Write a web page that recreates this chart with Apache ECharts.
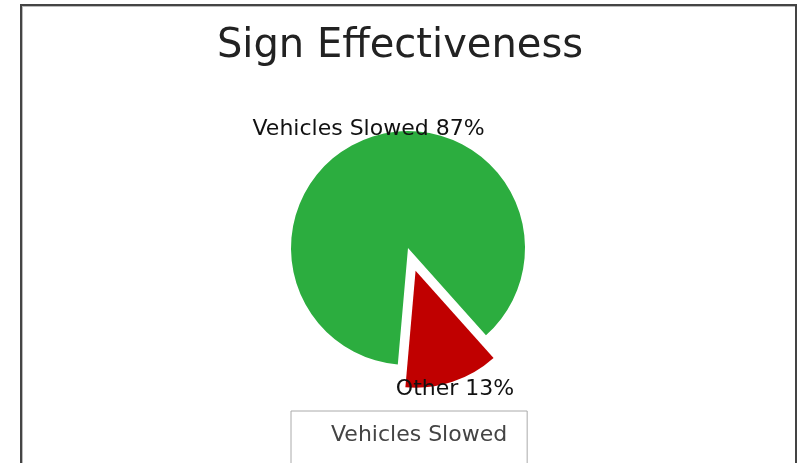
<!DOCTYPE html>
<html>
<head>
<meta charset="utf-8">
<script src="https://cdn.jsdelivr.net/npm/echarts@6/dist/echarts.min.js"></script>
<style>
  html, body { margin: 0; padding: 0; background: #fff; }
  #wrap { position: relative; width: 800px; height: 463px; overflow: hidden; }
  #chart { position: absolute; left: 0; top: 0; width: 800px; height: 560px; }
  #frame {
    position: absolute; left: 20px; top: 4px; width: 773px; height: 500px;
    border: 2px solid #444; box-shadow: inset 1px 1px 0 #bbb; pointer-events: none;
  }
</style>
</head>
<body>
<div id="wrap">
  <div id="chart"></div>
  <div id="frame"></div>
</div>
<script>
  const titleText = 'Sign Effectiveness';
  const names = ['Vehicles Slowed', 'Other'];
  const values = [87, 13];
  const colors = ['#2cad3f', '#c00000'];
  const exploded = [false, true];

  const font = '"DejaVu Sans", Verdana, sans-serif';
  const center = [408, 248];
  const offset = 24;

  const pieData = names.map((n, i) => ({
    name: n, value: values[i], selected: exploded[i],
    itemStyle: {color: colors[i]}
  }));

  const chart = echarts.init(document.getElementById('chart'));
  chart.setOption({
    animation: false,
    title: {
      text: titleText,
      left: 'center',
      top: 22,
      textStyle: {fontFamily: font, fontSize: 40, fontWeight: 'normal', color: '#222'}
    },
    legend: {
      data: names,
      orient: 'vertical',
      left: 291,
      top: 411,
      padding: [13, 20, 14, 10],
      itemGap: 26,
      itemWidth: 25,
      itemHeight: 14,
      itemStyle: {opacity: 0},
      backgroundColor: '#fff',
      borderColor: '#aaa',
      borderWidth: 1,
      selectedMode: false,
      textStyle: {fontFamily: font, fontSize: 22, color: '#444'}
    },
    series: [
      {
        type: 'pie',
        center: center,
        radius: 117,
        startAngle: 265,
        selectedMode: 'single',
        selectedOffset: offset,
        silent: true,
        label: {show: false},
        labelLine: {show: false},
        data: pieData
      },
      {
        // thin transparent ring only to place the slice labels
        type: 'pie',
        center: center,
        radius: [120, 124],
        startAngle: 265,
        selectedMode: 'single',
        selectedOffset: offset,
        silent: true,
        itemStyle: {color: 'transparent'},
        label: {
          show: true,
          position: 'inside',
          fontFamily: font,
          fontSize: 22,
          color: '#111',
          formatter: p => p.name + ' ' + p.value + '%'
        },
        labelLine: {show: false},
        data: names.map((n, i) => ({name: n, value: values[i], selected: exploded[i]}))
      }
    ]
  });
</script>
</body>
</html>
